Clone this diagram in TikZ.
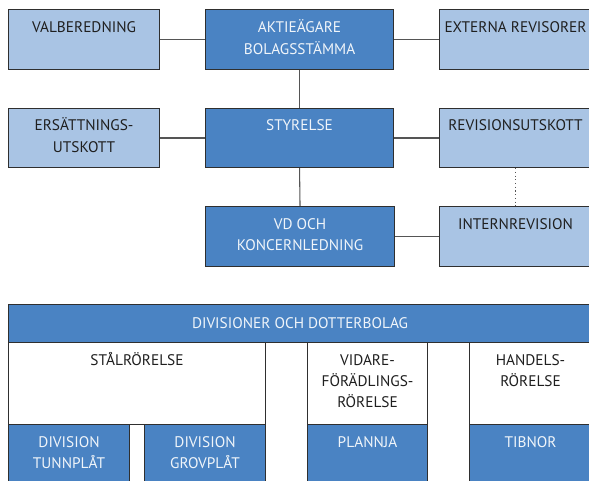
\documentclass[tikz,border=0pt]{standalone}
\usepackage{fontspec}
\setmainfont{PT Sans}
\usetikzlibrary{calc}
\definecolor{dkblue}{HTML}{4A83C3}
\definecolor{ltblue}{HTML}{A9C4E4}
\definecolor{edgec}{HTML}{2F2F2F}
\definecolor{connc}{HTML}{555555}
\newcommand\lbl{\fontsize{11.5}{15.8}\selectfont}
\newcommand\ml[1]{\begin{tabular}[t]{@{}c@{}}#1\end{tabular}}
\begin{document}
\begin{tikzpicture}[x=0.75pt,y=-0.75pt,
  box/.style={draw=edgec,line width=0.8pt,inner sep=0pt,anchor=north west},
  dark/.style={box,fill=dkblue},
  light/.style={box,fill=ltblue},
  whitebox/.style={box,fill=white},
  sz/.style 2 args={minimum width=#1*0.75pt,minimum height=#2*0.75pt},
  wt/.style={anchor=base,inner sep=0pt,text=white!92!dkblue,font=\lbl},
  bt/.style={anchor=base,inner sep=0pt,text=black!88,font=\lbl},
  conn/.style={draw=connc,line width=0.8pt}]
\useasboundingbox (0,0) rectangle (589,481);
% top organisation
\node[light,sz={151}{60}] (val) at (8,9) {};
\node[dark,sz={188}{60}] (akt) at (205,9) {};
\node[light,sz={152}{60}] (ext) at (439,9) {};
\node[light,sz={151}{59}] (ers) at (8,108) {};
\node[dark,sz={188}{59}] (sty) at (205,108) {};
\node[light,sz={152}{59}] (rev) at (439,108) {};
\node[dark,sz={189}{60}] (vd) at (205,206) {};
\node[light,sz={152}{60}] (int) at (439,206) {};
\node[bt] (val-t) at ($(val.north)+(0,24)$) {VALBEREDNING};
\node[wt] (akt-t) at ($(akt.north)+(0,24)$) {\ml{AKTIEÄGARE\\BOLAGSSTÄMMA}};
\node[bt] (ext-t) at ($(ext.north)+(0,24)$) {EXTERNA REVISORER};
\node[bt] (ers-t) at ($(ers.north)+(0,23)$) {\ml{ERSÄTTNINGS-\\UTSKOTT}};
\node[wt] (sty-t) at ($(sty.north)+(0,23)$) {STYRELSE};
\node[bt] (rev-t) at ($(rev.north)+(0,23)$) {REVISIONSUTSKOTT};
\node[wt] (vd-t) at ($(vd.north)+(0,23)$) {\ml{VD OCH\\KONCERNLEDNING}};
\node[bt] (int-t) at ($(int.north)+(0,23)$) {INTERNREVISION};
\draw[conn] (val.east) -- (akt.west);
\draw[conn] (akt.east) -- (ext.west);
\draw[conn] (akt.south) -- (sty.north);
\draw[conn] (ers.east) -- (sty.west);
\draw[conn] (sty.east) -- (rev.west);
\draw[conn] (sty.south) -- (vd.north);
\draw[conn] (vd.east) -- (int.west);
\draw[conn,dotted] (rev.south) -- (int.north);
% divisions
\node[dark,sz={583}{38}] (div) at (8,304) {};
\node[whitebox,sz={257}{82}] (stal) at (8,342) {};
\node[whitebox,sz={120}{82}] (vid) at (307,342) {};
\node[whitebox,sz={122}{82}] (han) at (469,342) {};
\node[dark,sz={121}{60}] (tun) at (8,424) {};
\node[dark,sz={121}{60}] (grov) at (144,424) {};
\node[dark,sz={120}{60}] (pla) at (307,424) {};
\node[dark,sz={122}{60}] (tib) at (469,424) {};
\node[wt] (div-t) at ($(div.north)+(0,24)$) {DIVISIONER OCH DOTTERBOLAG};
\node[bt] (stal-t) at ($(stal.north)+(0,23)$) {STÅLRÖRELSE};
\node[bt] (vid-t) at ($(vid.north)+(0,23)$) {\ml{VIDARE-\\FÖRÄDLINGS-\\RÖRELSE}};
\node[bt] (han-t) at ($(han.north)+(0,23)$) {\ml{HANDELS-\\RÖRELSE}};
\node[wt] (tun-t) at ($(tun.north)+(0,23)$) {\ml{DIVISION\\TUNNPLÅT}};
\node[wt] (grov-t) at ($(grov.north)+(0,23)$) {\ml{DIVISION\\GROVPLÅT}};
\node[wt] (pla-t) at ($(pla.north)+(0,23)$) {PLANNJA};
\node[wt] (tib-t) at ($(tib.north)+(0,23)$) {TIBNOR};
\end{tikzpicture}
\end{document}
